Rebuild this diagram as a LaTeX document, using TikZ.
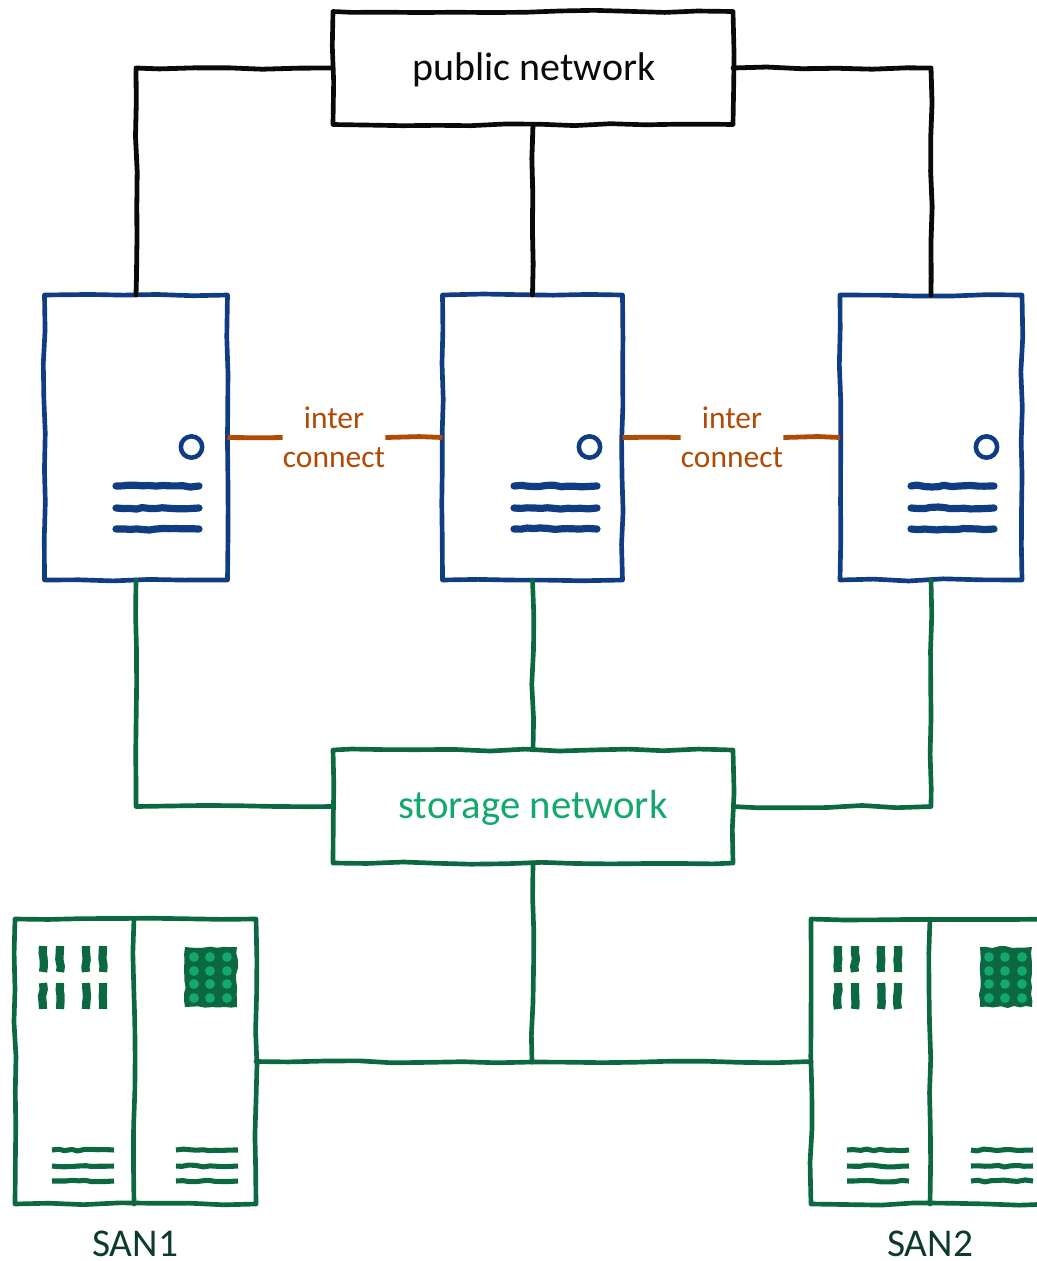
\documentclass[tikz,border=0pt]{standalone}
\usepackage{fontspec}
\setmainfont{Carlito}
\usetikzlibrary{decorations.pathmorphing}
\definecolor{netblack}{HTML}{0A0A0A}
\definecolor{srvblue}{HTML}{0F3C82}
\definecolor{sangreen}{HTML}{0B6840}
\definecolor{stgreen}{HTML}{12A86F}
\definecolor{icorange}{HTML}{B04A06}
\definecolor{sandark}{HTML}{0C3A2B}
\tikzset{
  px/.style={x=0.75pt,y=-0.75pt},
  wob/.style={decorate,decoration={random steps,segment length=26pt,amplitude=0.9pt},line join=round},
  wobs/.style={decorate,decoration={random steps,segment length=5pt,amplitude=0.8pt},line join=round},
  box/.style={wob,draw,line width=3.5pt,line cap=round,inner sep=0pt,outer sep=0pt,fill=white},
  netbox/.style={box,minimum width=300pt,minimum height=84.75pt},
  srvbox/.style={box,draw=srvblue,minimum width=137.25pt,minimum height=213.75pt},
  sanbox/.style={box,draw=sangreen,minimum width=180.75pt,minimum height=213.75pt},
  pubwire/.style={wob,draw=netblack,line width=3.6pt,line cap=round},
  sanwire/.style={wob,draw=sangreen,line width=3.5pt,line cap=round},
  icwire/.style={wob,draw=icorange,line width=3.6pt},
  barblue/.style={wobs,draw=srvblue,line width=5.4pt,line cap=round},
  bargreen/.style={wobs,draw=sangreen,line width=3.8pt},
  barv/.style={wobs,draw=sangreen,line width=6.2pt},
  txt/.style={inner sep=0pt,align=center},
}
\begin{document}
\begin{tikzpicture}[px]
\pgfmathsetseed{1234}
\useasboundingbox (0,0) rectangle (1037,1261);

\node[netbox,draw=netblack] (pub) at (533,68) {};
\node[srvbox] (s1) at (136,437.5) {};
\node[srvbox,minimum width=135pt] (s2) at (532.5,437.5) {};
\node[srvbox,minimum width=136.5pt] (s3) at (931,437.5) {};
\node[netbox,draw=sangreen] (st) at (533,806.5) {};
\node[sanbox] (san1) at (135.5,1061.5) {};
\begin{scope}
  \clip (780,900) rectangle (1037,1220);
  \node[sanbox] (san2) at (931.5,1061.5) {};
\end{scope}

\draw[pubwire] (pub.west) -| (s1.north);
\draw[pubwire] (pub.south) -- (s2.north);
\draw[pubwire] (pub.east) -| (s3.north);

\draw[sanwire] (s1.south) |- (st.west);
\draw[sanwire] (s2.south) -- (st.north);
\draw[sanwire] (s3.south) |- (st.east);

\coordinate (jn) at (532,1062);
\draw[sanwire] (st.south) -- (jn);
\draw[sanwire] (jn) -- (san1.east);
\draw[sanwire] (jn) -- (san2.west);

\coordinate (d1t) at (134,919);
\coordinate (d1b) at (134,1204);
\coordinate (d2t) at (930,919);
\coordinate (d2b) at (930,1204);
\draw[sanwire] (d1t) -- (d1b);
\draw[sanwire] (d2t) -- (d2b);

\node[txt,text=netblack,font=\fontsize{30}{35}\selectfont] (publabel) at (534,70) {public network};
\node[txt,text=stgreen,font=\fontsize{30.5}{36}\selectfont] (stlabel) at (533,808) {storage network};

\node[txt,text=icorange,font=\fontsize{23.6}{29.3}\selectfont] (ic1) at (334,437.5) {inter\\connect};
\node[txt,text=icorange,font=\fontsize{23.6}{29.3}\selectfont] (ic2) at (732,437.5) {inter\\connect};
\draw[icwire] (s1.east) -- (ic1.west);
\draw[icwire] (ic1.east) -- (s2.west);
\draw[icwire] (s2.east) -- (ic2.west);
\draw[icwire] (ic2.east) -- (s3.west);

\node[txt,text=sandark,font=\fontsize{29.5}{34}\selectfont] (san1label) at (135,1244) {SAN1};
\node[txt,text=sandark,font=\fontsize{29.5}{34}\selectfont] (san2label) at (930,1244) {SAN2};

\foreach \dx in {0,398,795}{
  \begin{scope}[shift={(\dx,0)}]
    \draw[srvblue,line width=3.4pt] (191.5,447) circle [radius=8pt];
    \foreach \yy in {486,508,529}
      \draw[barblue] (116,\yy) -- (199,\yy);
  \end{scope}
}

\foreach \dx in {0,795}{
  \begin{scope}[shift={(\dx,0)}]
    \foreach \xx in {43,60,86,103}
      \foreach \yy in {946,983}
        \draw[barv] (\xx,\yy) -- (\xx,\yy+26);
    \foreach \yy in {1150,1166,1181}{
      \draw[bargreen] (52,\yy) -- (114,\yy);
      \draw[bargreen] (176,\yy) -- (238,\yy);
    }
    \fill[sangreen,wobs] (185,947) rectangle (237,1007);
    \foreach \xx in {194,210,227}
      \foreach \yy in {957,971,984,998}
        \fill[stgreen] (\xx,\yy) circle [radius=3.7pt];
  \end{scope}
}
\end{tikzpicture}
\end{document}
